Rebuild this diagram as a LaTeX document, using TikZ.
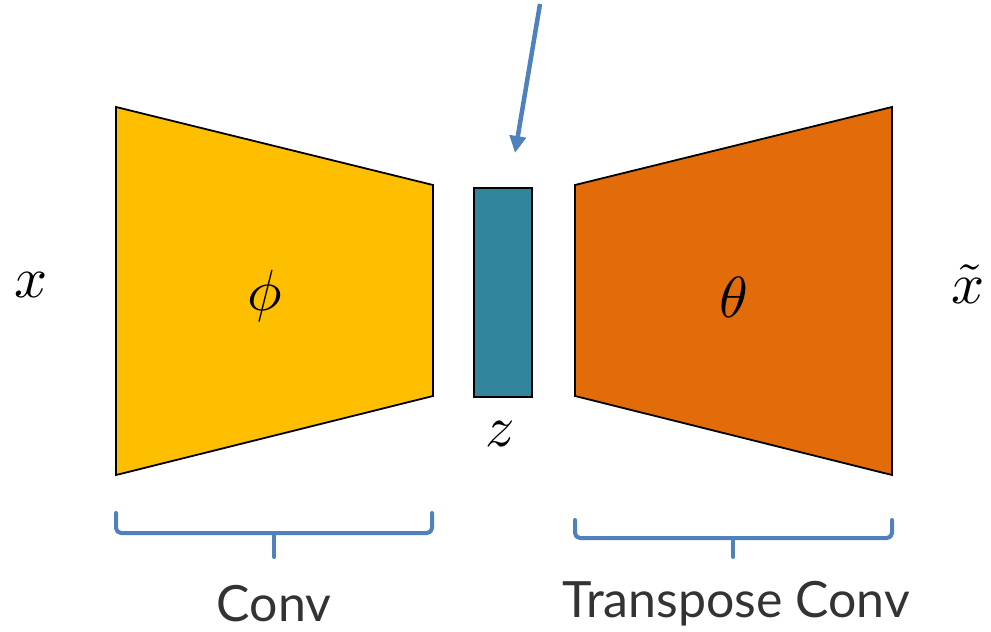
\documentclass[tikz,border=0pt]{standalone}
\usepackage{fontspec}
\setsansfont{Lato}
\usetikzlibrary{arrows.meta}
\definecolor{encY}{HTML}{FDBF00}
\definecolor{decO}{HTML}{E36C0A}
\definecolor{zTeal}{HTML}{31859C}
\definecolor{bluL}{HTML}{4F81BD}
\tikzset{
  block/.style={draw=black, line width=1.8pt, line join=miter},
  brace/.style={draw=bluL, line width=4pt, line cap=round, line join=round, rounded corners=5pt},
  mathlbl/.style={scale=5.8, inner sep=0pt},
  textlbl/.style={font=\sffamily\fontsize{50}{60}\selectfont, text=black!80, inner sep=0pt},
}
\begin{document}
\begin{tikzpicture}[x=1pt,y=-1pt]
\useasboundingbox (0,0) rectangle (991,632);
% encoder
\path[block, fill=encY] (116,107) -- (433,185) -- (433,396) -- (116,475) -- cycle;
% latent
\path[block, fill=zTeal] (474,188) rectangle (532,397);
% decoder
\path[block, fill=decO] (575,185) -- (892,107) -- (892,475) -- (575,396) -- cycle;
% labels
\node[mathlbl] (x) at (31,285) {$x$};
\node[mathlbl] (phi) at (265,296) {$\phi$};
\node[mathlbl] (theta) at (734,297) {$\theta$};
\node[mathlbl] (z) at (500,434) {$z$};
\node[mathlbl] (xt) at (968,284) {$\tilde{x}$};
% arrow
\coordinate (arrS) at (540,4);
\coordinate (arrE) at (515,153);
\draw[draw=bluL, line width=4.5pt, -{Triangle[length=17pt,width=16pt]}] (arrS) -- (arrE);
% braces
\draw[brace] (116,513) -- (116,533) -- (432,533) -- (432,513);
\draw[brace, rounded corners=0pt] (274,533) -- (274,557);
\draw[brace] (575,520) -- (575,538) -- (892,538) -- (892,520);
\draw[brace, rounded corners=0pt] (733,538) -- (733,557);
\node[textlbl] (conv) at (274,604) {Conv};
\node[textlbl] (tconv) at (736,604) {Transpose Conv};
\end{tikzpicture}
\end{document}
